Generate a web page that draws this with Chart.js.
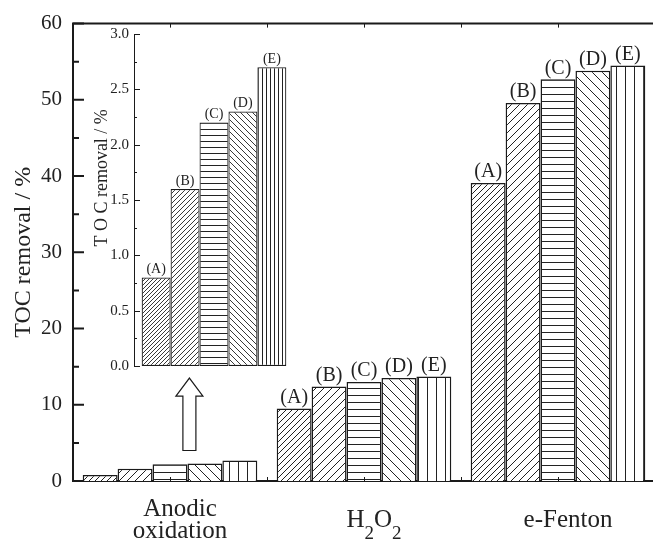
<!DOCTYPE html>
<html>
<head>
<meta charset="utf-8">
<script src="https://cdn.jsdelivr.net/npm/chart.js@4/dist/chart.umd.min.js"></script>
<style>
  html, body { margin: 0; padding: 0; background: #fff; overflow: hidden; }
  #wrap { position: relative; width: 653px; height: 541px; overflow: hidden; }
  #main { position: absolute; left: 0; top: 0; }
  #inset { position: absolute; left: 80px; top: 0; }
</style>
</head>
<body>
<div id="wrap">
  <canvas id="main" width="655" height="541"></canvas>
  <canvas id="inset" width="220" height="380"></canvas>
</div>
<script>
// categories and values
const categories = ["Anodic oxidation", "H2O2", "e-Fenton"];
const categoryLines = [["Anodic", "oxidation"], ["H_2O_2"], ["e-Fenton"]];
const seriesNames = ["(A)", "(B)", "(C)", "(D)", "(E)"];
const seriesA = [0.8, 9.5, 39.1];
const seriesB = [1.6, 12.4, 49.6];
const seriesC = [2.2, 13.0, 52.7];
const seriesD = [2.3, 13.5, 53.8];
const seriesE = [2.7, 13.7, 54.5];
const labelledCategories = [false, true, true];

// inset: anodic oxidation only, zoomed
const insetValues = [0.8, 1.6, 2.2, 2.3, 2.7];

// hollow arrow from the anodic bars up to the inset (data units)
const arrowSpec = { category: 0, shift: 0.1, from: 4, to: 13.5 };

const SERIF = "'Liberation Serif', 'Times New Roman', serif";
const INK = "#1a1a1a";
const TEXT = "#222";

function hatch(kind, s, lw) {
  const c = document.createElement("canvas");
  c.width = s; c.height = s;
  const g = c.getContext("2d");
  g.fillStyle = "#fff";
  g.fillRect(0, 0, s, s);
  g.strokeStyle = "#222";
  g.lineWidth = lw;
  g.beginPath();
  if (kind === "/") {
    g.moveTo(-1, s + 1); g.lineTo(s + 1, -1);
    g.moveTo(-2, 2); g.lineTo(2, -2);
    g.moveTo(s - 2, s + 2); g.lineTo(s + 2, s - 2);
  } else if (kind === "\\") {
    g.moveTo(-1, -1); g.lineTo(s + 1, s + 1);
    g.moveTo(s - 2, -2); g.lineTo(s + 2, 2);
    g.moveTo(-2, s - 2); g.lineTo(2, s + 2);
  } else if (kind === "-") {
    g.moveTo(0, Math.floor(s / 2) + 0.5); g.lineTo(s, Math.floor(s / 2) + 0.5);
  } else if (kind === "|") {
    g.moveTo(Math.floor(s / 2) + 0.5, 0); g.lineTo(Math.floor(s / 2) + 0.5, s);
  }
  g.stroke();
  return g.createPattern(c, "repeat");
}

const mainPatterns = [hatch("/", 6, 1), hatch("/", 8, 1), hatch("-", 7, 1), hatch("\\", 10, 1), hatch("|", 9, 1)];
const insetPatterns = [hatch("/", 4, 0.9), hatch("/", 5, 0.9), hatch("-", 6, 1), hatch("\\", 6, 0.9), hatch("|", 4, 1)];

function barLabels(size, filter) {
  return {
    id: "barLabels",
    afterDatasetsDraw(chart) {
      const ctx = chart.ctx;
      ctx.save();
      ctx.font = size + "px " + SERIF;
      ctx.fillStyle = TEXT;
      ctx.textAlign = "center";
      ctx.textBaseline = "bottom";
      chart.data.datasets.forEach((ds, i) => {
        chart.getDatasetMeta(i).data.forEach((el, j) => {
          if (!filter(j)) return;
          ctx.fillText(ds.label, el.x, el.y - 1);
        });
      });
      ctx.restore();
    }
  };
}

const mainDecor = {
  id: "mainDecor",
  afterDraw(chart) {
    const { ctx, chartArea: a } = chart;
    const x = chart.scales.x, y = chart.scales.y;
    ctx.save();
    ctx.strokeStyle = INK;
    ctx.lineWidth = 2;
    // top frame
    ctx.beginPath();
    ctx.moveTo(a.left - 1, a.top); ctx.lineTo(a.right, a.top);
    ctx.stroke();
    // inward y ticks
    ctx.beginPath();
    for (let v = y.min; v <= y.max; v += 5) {
      const py = y.getPixelForValue(v);
      const len = v % 10 === 0 ? 11 : 6;
      ctx.moveTo(a.left, py); ctx.lineTo(a.left + len, py);
    }
    ctx.stroke();
    // small x ticks at centres and between categories, top and bottom
    const w = (a.right - a.left) / categories.length;
    ctx.lineWidth = 1;
    ctx.beginPath();
    categories.forEach((c, i) => {
      const cx = Math.round(x.getPixelForValue(i)) + 0.5;
      [cx, cx + Math.round(w / 2)].forEach(px => {
        ctx.moveTo(px, a.top); ctx.lineTo(px, a.top + 4);
        ctx.moveTo(px, a.bottom); ctx.lineTo(px, a.bottom - 4);
      });
    });
    ctx.stroke();

    // category labels, with subscripts marked by "_"
    ctx.fillStyle = TEXT;
    ctx.textBaseline = "middle";
    const big = 25, small = 19;
    categoryLines.forEach((lines, i) => {
      const cx = x.getPixelForValue(i) + 10;
      lines.forEach((line, k) => {
        const py = a.bottom + 39 + (k - (lines.length - 1) / 2) * 22;
        const parts = [];
        for (let n = 0; n < line.length; n++) {
          if (line[n] === "_") { parts.push({ t: line[n + 1], sub: true }); n++; }
          else parts.push({ t: line[n], sub: false });
        }
        let total = 0;
        parts.forEach(p => {
          ctx.font = (p.sub ? small : big) + "px " + SERIF;
          p.w = ctx.measureText(p.t).width;
          total += p.w;
        });
        let px = cx - total / 2;
        ctx.textAlign = "left";
        parts.forEach(p => {
          ctx.font = (p.sub ? small : big) + "px " + SERIF;
          ctx.fillText(p.t, px, py + (p.sub ? 14 : 0));
          px += p.w;
        });
      });
    });

    // hollow arrow
    const ax = x.getPixelForValue(arrowSpec.category) + arrowSpec.shift * w;
    const yb = y.getPixelForValue(arrowSpec.from);
    const yt = y.getPixelForValue(arrowSpec.to);
    const sw = 6.5, hw = 13.5, hh = 18;
    ctx.fillStyle = "#fff";
    ctx.strokeStyle = INK;
    ctx.lineWidth = 1.2;
    ctx.beginPath();
    ctx.moveTo(ax - sw, yb);
    ctx.lineTo(ax - sw, yt + hh);
    ctx.lineTo(ax - hw, yt + hh);
    ctx.lineTo(ax, yt);
    ctx.lineTo(ax + hw, yt + hh);
    ctx.lineTo(ax + sw, yt + hh);
    ctx.lineTo(ax + sw, yb);
    ctx.closePath();
    ctx.fill();
    ctx.stroke();
    ctx.restore();
  }
};

const insetDecor = {
  id: "insetDecor",
  afterDraw(chart) {
    const { ctx, chartArea: a } = chart;
    const y = chart.scales.y;
    ctx.save();
    ctx.strokeStyle = INK;
    ctx.lineWidth = 1;
    ctx.beginPath();
    for (let v = 0; v <= 3.0001; v += 0.25) {
      const py = Math.round(y.getPixelForValue(v)) + 0.5;
      const len = Math.abs(v * 2 - Math.round(v * 2)) < 1e-6 ? 6 : 3;
      ctx.moveTo(a.left, py); ctx.lineTo(a.left + len, py);
    }
    ctx.stroke();
    // axis title
    ctx.fillStyle = TEXT;
    ctx.font = "18px " + SERIF;
    ctx.textAlign = "center";
    ctx.textBaseline = "middle";
    ctx.translate(22, y.getPixelForValue(1.7));
    ctx.rotate(-Math.PI / 2);
    ctx.fillText("T O C removal / %", 0, 0);
    ctx.restore();
  }
};

const mainSeries = [seriesA, seriesB, seriesC, seriesD, seriesE];

new Chart(document.getElementById("main"), {
  type: "bar",
  data: {
    labels: categories,
    datasets: mainSeries.map((d, i) => ({
      label: seriesNames[i],
      data: d,
      backgroundColor: mainPatterns[i],
      borderColor: INK,
      borderWidth: 1.5,
      barPercentage: 1,
      categoryPercentage: 0.9
    }))
  },
  options: {
    responsive: false,
    animation: false,
    layout: { padding: { top: 22, left: 0, right: 0, bottom: 0 } },
    plugins: { legend: { display: false }, tooltip: { enabled: false } },
    scales: {
      x: {
        grid: { display: false, drawTicks: false },
        border: { color: INK, width: 2 },
        ticks: { display: false },
        afterFit(s) { s.height = 60; }
      },
      y: {
        min: 0,
        max: 60,
        ticks: { stepSize: 10, padding: 11, color: TEXT, font: { family: SERIF, size: 21 } },
        grid: { display: false, drawTicks: false },
        border: { color: INK, width: 2 },
        title: {
          display: true,
          text: "TOC removal / %",
          color: TEXT,
          font: { family: SERIF, size: 24 },
          padding: { top: 9, bottom: 0 }
        },
        afterFit(s) { s.width = 73; }
      }
    }
  },
  plugins: [barLabels(20, j => labelledCategories[j]), mainDecor]
});

new Chart(document.getElementById("inset"), {
  type: "bar",
  data: {
    labels: [categories[0]],
    datasets: insetValues.map((v, i) => ({
      label: seriesNames[i],
      data: [v],
      backgroundColor: insetPatterns[i],
      borderColor: INK,
      borderWidth: 1.2,
      borderSkipped: false,
      barPercentage: 1,
      categoryPercentage: 0.904
    }))
  },
  options: {
    responsive: false,
    animation: false,
    layout: { padding: { top: 34, left: 0, right: 6, bottom: 0 } },
    plugins: { legend: { display: false }, tooltip: { enabled: false } },
    scales: {
      x: {
        grid: { display: false, drawTicks: false },
        border: { display: false },
        ticks: { display: false },
        afterFit(s) { s.height = 13; }
      },
      y: {
        min: 0,
        max: 3,
        ticks: { stepSize: 0.5, padding: 5, color: TEXT, font: { family: SERIF, size: 15 }, callback: v => v.toFixed(1) },
        grid: { display: false, drawTicks: false },
        border: { color: INK, width: 1 },
        afterFit(s) { s.width = 54; }
      }
    }
  },
  plugins: [barLabels(14, () => true), insetDecor]
});
</script>
</body>
</html>
